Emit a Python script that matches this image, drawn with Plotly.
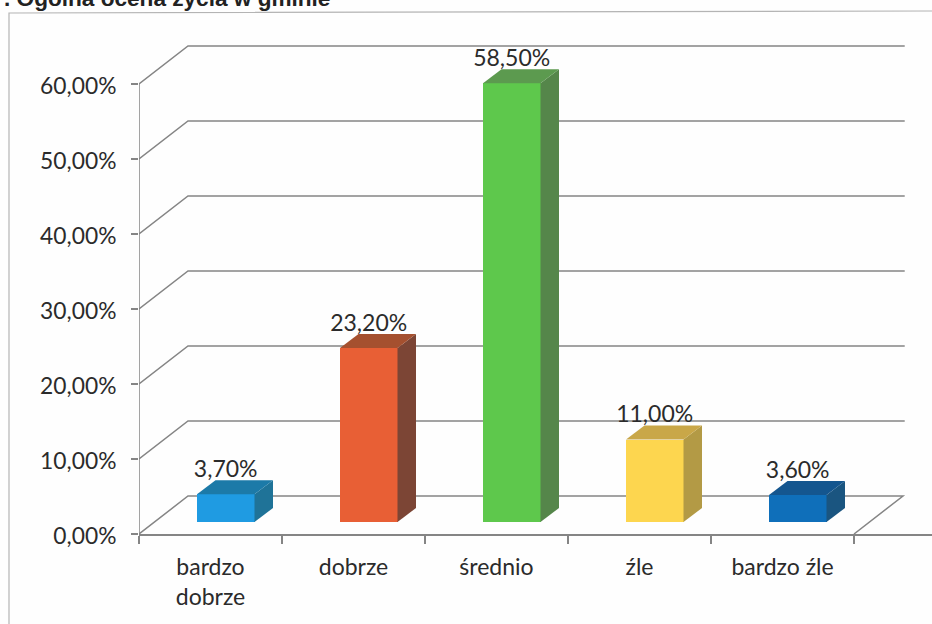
import plotly.graph_objects as go

categories = ["bardzo<br>dobrze", "dobrze", "średnio", "źle", "bardzo źle"]
values = [3.7, 23.2, 58.5, 11.0, 3.6]
value_labels = ["3,70%", "23,20%", "58,50%", "11,00%", "3,60%"]
y_ticks = [0, 10, 20, 30, 40, 50, 60]
y_tick_labels = ["0,00%", "10,00%", "20,00%", "30,00%", "40,00%", "50,00%", "60,00%"]
front_colors = ["#1f9be2", "#e85f35", "#5ec84c", "#fdd64f", "#0f6fba"]
side_colors = ["#1f7398", "#7c4535", "#55864a", "#b39a45", "#1a5580"]
top_colors = ["#1c7aa8", "#a5502f", "#5c9a4f", "#c9a748", "#14568f"]
title_text = ". Ogólna ocena życia w gminie"

W, H = 932, 624
ML, MB = 139, 90
PX_X, PX_Y = 143.0, 7.5          # pixels per category / per percent
WALL_DX, WALL_DY = 49 / PX_X, 38 / PX_Y
BAR_W = 57.5 / PX_X
BAR_OFF = 58 / PX_X
BAR_BASE = 12 / PX_Y
BAR_DX, BAR_DY = 18.5 / PX_X, 14 / PX_Y
GRID = "#858585"
TEXT = "#2b2b2b"
FONT = "Lato"

fig = go.Figure()

lefts = [i + BAR_OFF for i in range(len(values))]

fig.add_trace(go.Bar(
    x=[l + BAR_W / 2 for l in lefts], y=values, base=BAR_BASE, width=BAR_W,
    marker=dict(color=front_colors, line=dict(width=0)),
    hoverinfo="skip", showlegend=False,
))

for l, v, sc, tc in zip(lefts, values, side_colors, top_colors):
    r = l + BAR_W
    t = BAR_BASE + v
    fig.add_trace(go.Scatter(
        x=[r, r + BAR_DX, r + BAR_DX, r, r],
        y=[BAR_BASE, BAR_BASE + BAR_DY, t + BAR_DY, t, BAR_BASE],
        mode="lines", fill="toself", fillcolor=sc, line=dict(width=0),
        hoverinfo="skip", showlegend=False,
    ))
    fig.add_trace(go.Scatter(
        x=[l, r, r + BAR_DX, l + BAR_DX, l],
        y=[t, t, t + BAR_DY, t + BAR_DY, t],
        mode="lines", fill="toself", fillcolor=tc, line=dict(width=0),
        hoverinfo="skip", showlegend=False,
    ))

fig.add_trace(go.Scatter(
    x=[l + BAR_W / 2 + BAR_DX / 2 - 0.065 for l in lefts],
    y=[BAR_BASE + v + BAR_DY - 0.3 for v in values],
    mode="text", text=value_labels, textposition="top center",
    textfont=dict(family=FONT, size=23, color=TEXT),
    hoverinfo="skip", showlegend=False, cliponaxis=False,
))

shapes = []
n = len(categories)
for v in y_ticks:
    xs = [0, WALL_DX, n + WALL_DX + (0.012 if v else 0)]
    ys = [v, v + WALL_DY, v + WALL_DY]
    if v == 0:
        xs.append(n)
        ys.append(0)
    path = "M " + " L ".join(f"{a},{b}" for a, b in zip(xs, ys))
    shapes.append(dict(type="path", path=path, xref="x", yref="y", layer="below",
                       line=dict(color=GRID, width=1.5)))

# outer chart frame, in paper coordinates of the plot area
pw, ph = W - ML, H - MB
fx = lambda p: (p - ML) / pw
fy = lambda p: (H - MB - p) / ph
frame = (f"M {fx(9)},{fy(624)} L {fx(9)},{fy(13)} L {fx(932)},{fy(11)}")
shapes.append(dict(type="path", path=frame, xref="paper", yref="paper", layer="below",
                   line=dict(color="#b4b4b4", width=1.2)))
shapes.append(dict(type="line", x0=0, x1=0, y0=0, y1=max(y_ticks), xref="x", yref="y", layer="below",
                   line=dict(color=GRID, width=1.5)))

fig.update_layout(
    width=W, height=H, autosize=False,
    margin=dict(l=ML, r=0, t=0, b=MB, pad=0),
    paper_bgcolor="#fefefe", plot_bgcolor="rgba(0,0,0,0)",
    shapes=shapes, showlegend=False, bargap=0,
    annotations=[dict(
        text=f"<b>{title_text}</b>", xref="paper", yref="paper",
        x=fx(3), y=fy(-1.5), xanchor="left", yanchor="middle", showarrow=False,
        font=dict(family="Liberation Sans", size=22.6, color="#222222"), borderpad=0,
    )],
    xaxis=dict(
        range=[0, pw / PX_X], tickmode="array",
        tickvals=[i + 0.5 for i in range(n)], ticktext=categories,
        ticks="", ticklabelstandoff=12, showgrid=False, zeroline=False,
        showline=True, linecolor=GRID, linewidth=1.5,
        tickfont=dict(family=FONT, size=23, color=TEXT),
        minor=dict(tickmode="array", tickvals=list(range(n + 1)), ticks="outside",
                   ticklen=8, tickwidth=1.5, tickcolor=GRID, showgrid=False),
    ),
    yaxis=dict(
        range=[0, ph / PX_Y], tickmode="array", tickvals=y_ticks, ticktext=y_tick_labels,
        ticks="outside", ticklen=7, tickwidth=1.5, tickcolor=GRID,
        ticklabelstandoff=10, ticklabelshift=2, showgrid=False, zeroline=False,
        showline=False,
        tickfont=dict(family=FONT, size=22.8, color=TEXT),
    ),
)

fig.write_html(
    "out.html",
    config={"displayModeBar": False},
    post_script="document.body.style.margin='0';document.documentElement.style.background='#fefefe';",
)
